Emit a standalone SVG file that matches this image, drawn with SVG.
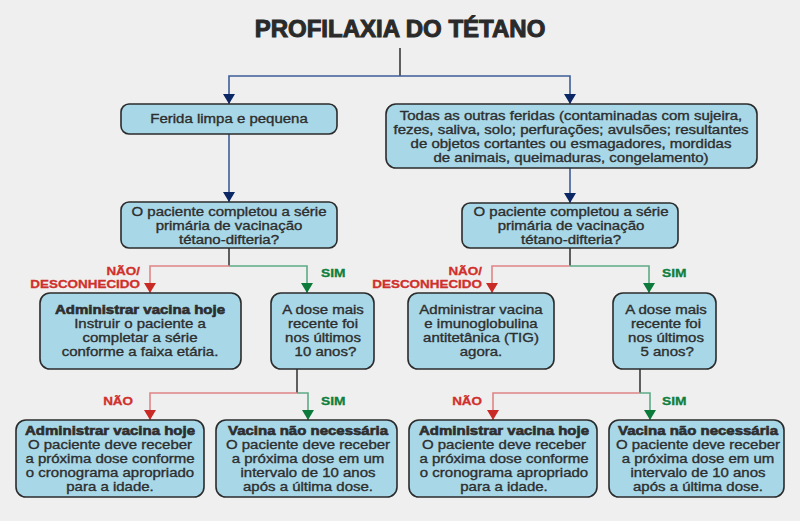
<svg xmlns="http://www.w3.org/2000/svg" width="800" height="521" viewBox="0 0 800 521">
<defs>
<style>
.bg{fill:#efefef}
.box{fill:#a8d8e8;stroke:#2b2b2b;stroke-width:1.6}
.t{font-family:"Liberation Sans",Arial,sans-serif;font-size:12.5px;fill:#2e2e2e;text-anchor:middle;stroke:#2e2e2e;stroke-width:0.35}
.h{font-family:"Liberation Sans",Arial,sans-serif;font-size:12.5px;font-weight:bold;fill:#2e2e2e;text-anchor:middle;stroke:#2e2e2e;stroke-width:0.6}
.title{font-family:"Liberation Sans",Arial,sans-serif;font-size:24px;font-weight:bold;fill:#2a2a2a;text-anchor:middle;stroke:#2a2a2a;stroke-width:1}
.no{font-family:"Liberation Sans",Arial,sans-serif;font-size:11.5px;font-weight:bold;fill:#d0302c;text-anchor:end;stroke:#d0302c;stroke-width:0.3}
.yes{font-family:"Liberation Sans",Arial,sans-serif;font-size:11.5px;font-weight:bold;fill:#0f7f3e;stroke:#0f7f3e;stroke-width:0.3}
.stem{fill:none;stroke:#3a3a3a;stroke-width:1.6}
.blue{fill:none;stroke:#3e5e98;stroke-width:1.6}
.red{fill:none;stroke:#e08585;stroke-width:1.6}
.green{fill:none;stroke:#5eab86;stroke-width:1.6}
</style>
<marker id="aBlue" markerUnits="userSpaceOnUse" markerWidth="10" markerHeight="12" refX="10" refY="6" orient="auto" viewBox="0 0 10 12"><path d="M0,0 L10,6 L0,12 z" fill="#0c2766"/></marker>
<marker id="aRed" markerUnits="userSpaceOnUse" markerWidth="10" markerHeight="12" refX="10" refY="6" orient="auto" viewBox="0 0 10 12"><path d="M0,0 L10,6 L0,12 z" fill="#c92a26"/></marker>
<marker id="aGreen" markerUnits="userSpaceOnUse" markerWidth="10" markerHeight="12" refX="10" refY="6" orient="auto" viewBox="0 0 10 12"><path d="M0,0 L10,6 L0,12 z" fill="#0b7a3a"/></marker>
</defs>
<rect class="bg" x="0" y="0" width="800" height="521"/>
<text id="title" class="title" x="400" y="37">PROFILAXIA DO TÉTANO</text>

<g id="connectors">
<path class="stem" d="M400,48 V76"/>
<path class="blue" d="M400,76 H229 V104" marker-end="url(#aBlue)"/>
<path class="blue" d="M400,76 H570 V104" marker-end="url(#aBlue)"/>
<path class="blue" d="M229,134 V202" marker-end="url(#aBlue)"/>
<path class="blue" d="M570,168 V203" marker-end="url(#aBlue)"/>

<path class="stem" d="M229,248 V266"/>
<path class="red" d="M229,266 H150 V293" marker-end="url(#aRed)"/>
<path class="green" d="M229,266 H307 V293" marker-end="url(#aGreen)"/>
<path class="stem" d="M570,248 V266"/>
<path class="red" d="M570,266 H492 V293" marker-end="url(#aRed)"/>
<path class="green" d="M570,266 H649 V293" marker-end="url(#aGreen)"/>

<path class="stem" d="M297,369 V393"/>
<path class="red" d="M297,393 H150 V420" marker-end="url(#aRed)"/>
<path class="green" d="M297,393 H308 V420" marker-end="url(#aGreen)"/>
<path class="stem" d="M640,369 V393"/>
<path class="red" d="M640,393 H493 V420" marker-end="url(#aRed)"/>
<path class="green" d="M640,393 H650 V420" marker-end="url(#aGreen)"/>

<g transform="translate(140 0) scale(1.17 1)">
<text class="no" x="0" y="275">NÃO/</text>
<text class="no" x="0" y="288">DESCONHECIDO</text>
</g>
<g transform="translate(482 0) scale(1.17 1)">
<text class="no" x="0" y="275">NÃO/</text>
<text class="no" x="0" y="288">DESCONHECIDO</text>
</g>
<g transform="translate(321 0) scale(1.2 1)"><text class="yes" x="0" y="277">SIM</text></g>
<g transform="translate(662 0) scale(1.2 1)"><text class="yes" x="0" y="277">SIM</text></g>
<g transform="translate(133 0) scale(1.17 1)"><text class="no" x="0" y="405">NÃO</text></g>
<g transform="translate(321 0) scale(1.2 1)"><text class="yes" x="0" y="405">SIM</text></g>
<g transform="translate(482 0) scale(1.17 1)"><text class="no" x="0" y="405">NÃO</text></g>
<g transform="translate(662 0) scale(1.2 1)"><text class="yes" x="0" y="405">SIM</text></g>
</g>

<g id="clean">
<rect class="box" x="121" y="104" width="216" height="30" rx="8"/>
<g transform="translate(229 0) scale(1.2 1)">
<text class="t" x="0" y="123">Ferida limpa e pequena</text>
</g>
</g>

<g id="other">
<rect class="box" x="386" y="104" width="371" height="64" rx="10"/>
<g transform="translate(571 0) scale(1.2 1)">
<text class="t" x="0" y="120">Todas as outras feridas (contaminadas com sujeira,</text>
<text class="t" x="0" y="134">fezes, saliva, solo; perfurações; avulsões; resultantes</text>
<text class="t" x="0" y="148">de objetos cortantes ou esmagadores, mordidas</text>
<text class="t" x="0" y="162">de animais, queimaduras, congelamento)</text>
</g>
</g>

<g id="q1">
<rect class="box" x="121" y="202" width="216" height="46" rx="8"/>
<g transform="translate(229 0) scale(1.2 1)">
<text class="t" x="0" y="216">O paciente completou a série</text>
<text class="t" x="0" y="230">primária de vacinação</text>
<text class="t" x="0" y="244">tétano-difteria?</text>
</g>
</g>

<g id="q2">
<rect class="box" x="462" y="203" width="216" height="45" rx="8"/>
<g transform="translate(571 0) scale(1.2 1)">
<text class="t" x="0" y="216">O paciente completou a série</text>
<text class="t" x="0" y="230">primária de vacinação</text>
<text class="t" x="0" y="244">tétano-difteria?</text>
</g>
</g>

<g id="l-no">
<rect class="box" x="40" y="293" width="201" height="76" rx="10"/>
<g transform="translate(140 0) scale(1.2 1)">
<text class="h" x="0" y="314">Administrar vacina hoje</text>
<text class="t" x="0" y="328">Instruir o paciente a</text>
<text class="t" x="0" y="342">completar a série</text>
<text class="t" x="0" y="356">conforme a faixa etária.</text>
</g>
</g>

<g id="l-yes">
<rect class="box" x="271" y="293" width="103" height="76" rx="10"/>
<g transform="translate(323 0) scale(1.2 1)">
<text class="t" x="0" y="314">A dose mais</text>
<text class="t" x="0" y="328">recente foi</text>
<text class="t" x="0" y="342">nos últimos</text>
<text class="t" x="2" y="356">10 anos?</text>
</g>
</g>

<g id="r-no">
<rect class="box" x="408" y="293" width="146" height="76" rx="10"/>
<g transform="translate(481 0) scale(1.2 1)">
<text class="t" x="0" y="314">Administrar vacina</text>
<text class="t" x="0" y="328">e imunoglobulina</text>
<text class="t" x="0" y="342">antitetânica (TIG)</text>
<text class="t" x="0" y="356">agora.</text>
</g>
</g>

<g id="r-yes">
<rect class="box" x="613" y="293" width="103" height="76" rx="10"/>
<g transform="translate(666 0) scale(1.2 1)">
<text class="t" x="0" y="314">A dose mais</text>
<text class="t" x="0" y="328">recente foi</text>
<text class="t" x="0" y="342">nos últimos</text>
<text class="t" x="1" y="356">5 anos?</text>
</g>
</g>

<g id="l-admin">
<rect class="box" x="16" y="420" width="188" height="77" rx="10"/>
<g transform="translate(110 0) scale(1.2 1)">
<text class="h" x="0" y="435">Administrar vacina hoje</text>
<text class="t" x="0" y="449">O paciente deve receber</text>
<text class="t" x="0" y="463">a próxima dose conforme</text>
<text class="t" x="0" y="477">o cronograma apropriado</text>
<text class="t" x="0" y="491">para a idade.</text>
</g>
</g>

<g id="l-none">
<rect class="box" x="216" y="420" width="181" height="77" rx="10"/>
<g transform="translate(308 0) scale(1.2 1)">
<text class="h" x="0" y="435">Vacina não necessária</text>
<text class="t" x="0" y="449">O paciente deve receber</text>
<text class="t" x="0" y="463">a próxima dose em um</text>
<text class="t" x="0" y="477">intervalo de 10 anos</text>
<text class="t" x="0" y="491">após a última dose.</text>
</g>
</g>

<g id="r-admin">
<rect class="box" x="409" y="420" width="188" height="77" rx="10"/>
<g transform="translate(504 0) scale(1.2 1)">
<text class="h" x="0" y="435">Administrar vacina hoje</text>
<text class="t" x="0" y="449">O paciente deve receber</text>
<text class="t" x="0" y="463">a próxima dose conforme</text>
<text class="t" x="0" y="477">o cronograma apropriado</text>
<text class="t" x="0" y="491">para a idade.</text>
</g>
</g>

<g id="r-none">
<rect class="box" x="609" y="420" width="175" height="77" rx="10"/>
<g transform="translate(698 0) scale(1.2 1)">
<text class="h" x="0" y="435">Vacina não necessária</text>
<text class="t" x="0" y="449">O paciente deve receber</text>
<text class="t" x="0" y="463">a próxima dose em um</text>
<text class="t" x="0" y="477">intervalo de 10 anos</text>
<text class="t" x="0" y="491">após a última dose.</text>
</g>
</g>
</svg>
